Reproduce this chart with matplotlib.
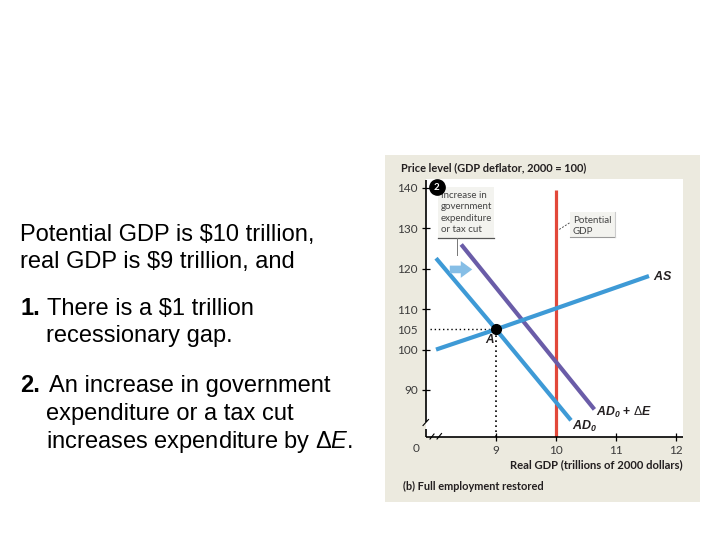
import matplotlib
matplotlib.use("Agg")
import matplotlib.pyplot as plt
from matplotlib.patches import Rectangle, FancyArrowPatch

plt.rcParams['mathtext.fontset'] = 'custom'
plt.rcParams['mathtext.rm'] = 'Liberation Sans'
plt.rcParams['mathtext.it'] = 'Liberation Sans:italic'
plt.rcParams['mathtext.bf'] = 'Liberation Sans:bold'
plt.rcParams['mathtext.bfit'] = 'Liberation Sans:italic:bold'

# ---------------- data ----------------
ad0_x = [8.0, 9.0, 10.25]
ad0_y = [122.6, 105.0, 82.5]
ad1_x = [8.42, 10.64]
ad1_y = [126.0, 85.2]
as_x = [8.0, 9.0, 11.55]
as_y = [100.0, 105.0, 118.2]
potential_gdp = 10.0
potential_top = 139.4
point_a = (9.0, 105.0)
x_ticks = [9, 10, 11, 12]
y_ticks = [90, 100, 105, 110, 120, 130, 140]

W, H = 720, 540
fig = plt.figure(figsize=(7.2, 5.4), dpi=100)
fig.patch.set_facecolor('white')

def fx(px):
    return px / W

def fy(py):
    return 1 - py / H

CH = 'Lato'
TXT = '#231f20'
TICKC = '#3a3a3a'

# panel background
fig.patches.append(Rectangle((fx(385), fy(502)), 315 / W, 347 / H,
                             transform=fig.transFigure, facecolor='#ECEADF',
                             edgecolor='none', zorder=-5))

ax = fig.add_axes([fx(426), fy(437), 257 / W, 258 / H])
ax.set_zorder(2)
ax.set_facecolor('white')
xmin, xmax = 7.833, 12.117
ymin, ymax = 78.37, 142.2
ax.set_xlim(xmin, xmax)
ax.set_ylim(ymin, ymax)
for s in ax.spines.values():
    s.set_visible(False)

def px2x(px):
    return 9 + (px - 496) / 60.0

def py2y(py):
    return 100 - (py - 349.6) / 4.04

# axes lines with breaks
k = dict(color='black', lw=1.2, clip_on=False, zorder=5, solid_capstyle='butt')
ax.plot([xmin, xmin], [py2y(421.5), ymax - 0.3], **k)
ax.plot([xmin, xmin], [ymin, py2y(429)], **k)
ax.plot([px2x(423), px2x(428.5)], [py2y(425.5), py2y(419.5)], color='black', lw=0.8, clip_on=False, zorder=5)
ax.plot([xmin, xmax], [ymin, ymin], **k)
ax.plot([px2x(430), px2x(434)], [py2y(439), py2y(434)], color='black', lw=0.8, clip_on=False, zorder=5)
ax.plot([px2x(437), px2x(441.5)], [py2y(439), py2y(433.5)], color='black', lw=0.8, clip_on=False, zorder=5)

ax.set_xticks(x_ticks)
ax.set_xticklabels([str(t) for t in x_ticks], fontsize=8.5, family=CH, color=TICKC)
ax.set_yticks(y_ticks)
ax.set_yticklabels([str(t) for t in y_ticks], fontsize=8.5, family=CH, color=TICKC)
ax.tick_params(axis='both', direction='inout', length=6, width=0.9, color='black', pad=3)
ax.tick_params(axis='x', pad=2.5)
for t, v in zip(ax.yaxis.get_major_ticks(), y_ticks):
    if v == 105:
        t.tick1line.set_visible(False)
fig.text(fx(416), fy(448), '0', fontsize=8.5, family=CH, color=TICKC, ha='center', va='center')

# dotted guide lines
ax.plot([px2x(430), point_a[0]], [point_a[1], point_a[1]], color='black', lw=1.0,
        linestyle=(0, (1, 2)), zorder=3)
ax.plot([point_a[0], point_a[0]], [ymin, point_a[1]], color='black', lw=1.2,
        linestyle=(0, (1, 2)), zorder=3, clip_on=False)

# curves
ax.plot([potential_gdp, potential_gdp], [ymin, potential_top], color='#E2483A', lw=2.3, zorder=2,
        solid_capstyle='butt')
ax.plot(ad1_x, ad1_y, color='#6A5CA8', lw=3.0, zorder=3, solid_capstyle='butt')
ax.plot(ad0_x, ad0_y, color='#3E9AD6', lw=3.0, zorder=4, solid_capstyle='butt')
ax.plot(as_x, as_y, color='#3E9AD6', lw=3.0, zorder=4, solid_capstyle='butt')
ax.plot([point_a[0]], [point_a[1]], 'o', color='black', markersize=7, zorder=6)

# curve labels
ax.text(8.9, 102.4, r'$\mathbfit{A}$', fontsize=8.5, color=TXT, ha='center', va='center')
ax.text(11.62, 118.1, r'$\mathbfit{AS}$', fontsize=9, color=TXT, ha='left', va='center')
ax.text(10.27, 81.0, r'$\mathbfit{AD}_{\mathbfit{0}}$', fontsize=9, color=TXT, ha='left', va='center')
ax.text(10.66, 84.4, r'$\mathbfit{AD}_{\mathbfit{0}}\ \mathbf{+}\ \Delta \mathbfit{E}$', fontsize=8.8,
        color=TXT, ha='left', va='center')

# annotation box 1
bx0, bx1 = px2x(437.7), px2x(494.3)
by0, by1 = py2y(237.7), py2y(186.7)
ax.add_patch(Rectangle((bx0, by0), bx1 - bx0, by1 - by0, facecolor='#F3F3EF',
                       edgecolor='none', zorder=5))
ax.plot([bx0, bx1], [by0, by0], color='#555555', lw=0.9, zorder=6)
ax.text(px2x(441), py2y(212.5), 'Increase in\ngovernment\nexpenditure\nor tax cut', fontsize=7,
        family=CH, color='#444444', ha='left', va='center', linespacing=1.32, zorder=7)
ax.plot([px2x(456.7), px2x(456.7)], [by0, py2y(255)], color='#777777', lw=0.7, zorder=6)
ax.plot([px2x(436.7)], [py2y(187.5)], 'o', color='black', markersize=11, zorder=8, clip_on=False)
ax.text(px2x(436.7), py2y(187.5), '2', fontsize=7, weight='bold', color='white', family=CH,
        ha='center', va='center', zorder=9)

arr = FancyArrowPatch((px2x(447), py2y(269.5)), (px2x(475), py2y(269.5)),
                      arrowstyle='simple,head_length=0.75,head_width=1.1,tail_width=0.5',
                      mutation_scale=11, facecolor='#86BEE6', edgecolor='none', zorder=6)
ax.add_patch(arr)

# annotation box 2
cx0, cx1 = px2x(570), px2x(615)
cy0, cy1 = py2y(237), py2y(212.5)
ax.add_patch(Rectangle((cx0, cy0), cx1 - cx0, cy1 - cy0, facecolor='#F3F3EF',
                       edgecolor='none', zorder=5))
ax.plot([cx0, cx1], [cy0, cy0], color='#999999', lw=0.8, zorder=6)
ax.plot([cx1, cx1], [cy0, cy1], color='#cccccc', lw=0.8, zorder=6)
ax.text(px2x(573), py2y(226), 'Potential\nGDP', fontsize=7, family=CH, color='#444444',
        ha='left', va='center', linespacing=1.25, zorder=7)
ax.plot([px2x(569.5), px2x(558.5)], [py2y(223), py2y(230)], color='#555555', lw=0.7,
        linestyle=(0, (2, 1.5)), zorder=6)

# panel texts
fig.text(fx(401), fy(168), 'Price level (GDP deflator, 2000 = 100)', fontsize=7.9, weight='bold',
         family=CH, color=TXT, ha='left', va='center')
fig.text(fx(683), fy(465), 'Real GDP (trillions of 2000 dollars)', fontsize=8.1, weight='bold',
         family=CH, color=TXT, ha='right', va='center')
fig.text(fx(403), fy(486), '(b) Full employment restored', fontsize=7.9, weight='bold',
         family=CH, color=TXT, ha='left', va='center')

# left text
LF = 'Liberation Sans'
fs = 17
kw = dict(fontsize=fs, family=LF, color='black', ha='left', va='baseline', parse_math=False)
fig.text(fx(20), fy(241), 'Potential GDP is $10 trillion,', **kw)
fig.text(fx(20), fy(268), 'real GDP is $9 trillion, and', **kw)
fig.text(fx(20), fy(315), '1.', weight='bold', **kw)
fig.text(fx(47), fy(315), 'There is a $1 trillion', **kw)
fig.text(fx(46), fy(342), 'recessionary gap.', **kw)
fig.text(fx(20), fy(392), '2.', weight='bold', **kw)
fig.text(fx(49), fy(392), 'An increase in government', **kw)
fig.text(fx(46), fy(420), 'expenditure or a tax cut', **kw)
fig.text(fx(46), fy(448), r'increases expenditure by $\Delta\mathit{E}$.', fontsize=fs, family=LF,
         color='black', ha='left', va='baseline')

fig.savefig('out.png', dpi=100)
